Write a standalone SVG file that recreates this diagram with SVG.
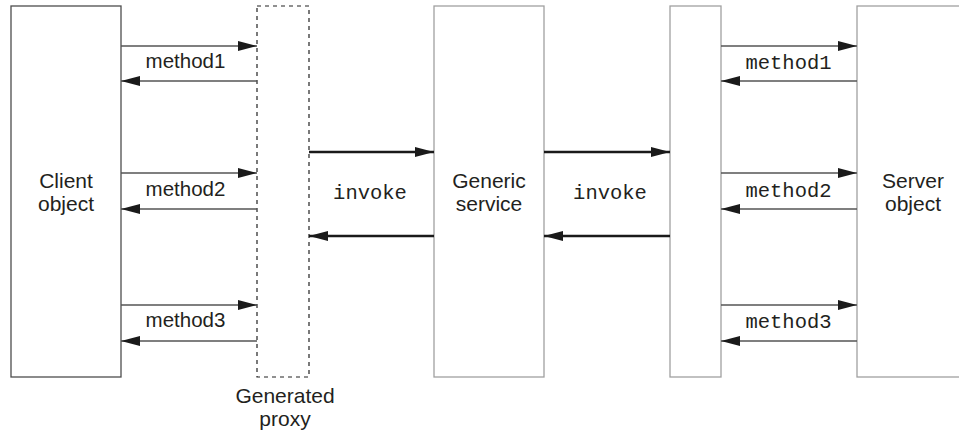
<svg xmlns="http://www.w3.org/2000/svg" width="959" height="434" viewBox="0 0 959 434">
  <style>
    .sans { font-family: "Liberation Sans", Arial, sans-serif; fill: #231f20; }
    .mono { font-family: "Liberation Mono", "Courier New", monospace; fill: #231f20; }
    .node { font-size: 21px; text-anchor: middle; }
    .lbl { font-size: 20.5px; text-anchor: middle; }
    .mlbl { font-size: 20.5px; text-anchor: middle; }
    .box-dark { fill: #fff; stroke: #4d4d4d; stroke-width: 1.3; }
    .box-light { fill: #fff; stroke: #a0a0a0; stroke-width: 1.3; }
    .box-dash { fill: #fff; stroke: #222; stroke-width: 1.2; stroke-dasharray: 4 4; }
    .call { stroke: #555; stroke-width: 1.6; fill: none; }
    .inv { stroke: #1a1a1a; stroke-width: 2.6; fill: none; }
  </style>
  <defs>
    <marker id="ah" viewBox="0 0 19 10" refX="19" refY="5" markerWidth="19" markerHeight="10" markerUnits="userSpaceOnUse" orient="auto">
      <path d="M0,0 L19,5 L0,10 Z" fill="#1a1a1a"/>
    </marker>
  </defs>

  <rect width="959" height="434" fill="#fff"/>

  <g id="client">
    <rect class="box-dark" x="11" y="6" width="110" height="371"/>
    <text class="sans node" x="66" y="188">Client</text>
    <text class="sans node" x="66" y="211">object</text>
  </g>

  <g id="proxy">
    <rect class="box-dash" x="257" y="6" width="52" height="371"/>
    <text class="sans node" x="285" y="403">Generated</text>
    <text class="sans node" x="285" y="426">proxy</text>
  </g>

  <g id="generic-service">
    <rect class="box-light" x="434" y="6" width="110" height="371"/>
    <text class="sans node" x="489" y="188">Generic</text>
    <text class="sans node" x="489" y="211">service</text>
  </g>

  <g id="dispatcher">
    <rect class="box-light" x="670" y="6" width="51" height="371"/>
  </g>

  <g id="server">
    <rect class="box-light" x="857" y="6" width="115" height="371"/>
    <text class="sans node" x="913" y="188">Server</text>
    <text class="sans node" x="913" y="211">object</text>
  </g>

  <g id="connectors">
    <!-- client <-> proxy -->
    <line class="call" x1="121" y1="46" x2="257" y2="46" marker-end="url(#ah)"/>
    <line class="call" x1="257" y1="81" x2="121" y2="81" marker-end="url(#ah)"/>
    <line class="call" x1="121" y1="173" x2="257" y2="173" marker-end="url(#ah)"/>
    <line class="call" x1="257" y1="209" x2="121" y2="209" marker-end="url(#ah)"/>
    <line class="call" x1="121" y1="305" x2="257" y2="305" marker-end="url(#ah)"/>
    <line class="call" x1="257" y1="341" x2="121" y2="341" marker-end="url(#ah)"/>
    <text class="sans lbl" x="185.5" y="68">method1</text>
    <text class="sans lbl" x="185.5" y="196">method2</text>
    <text class="sans lbl" x="185.5" y="327">method3</text>

    <!-- proxy <-> generic service -->
    <line class="inv" x1="309" y1="152" x2="434" y2="152" marker-end="url(#ah)"/>
    <line class="inv" x1="434" y1="236" x2="309" y2="236" marker-end="url(#ah)"/>
    <text class="mono mlbl" x="370" y="199">invoke</text>

    <!-- generic service <-> dispatcher -->
    <line class="inv" x1="544" y1="152" x2="670" y2="152" marker-end="url(#ah)"/>
    <line class="inv" x1="670" y1="236" x2="544" y2="236" marker-end="url(#ah)"/>
    <text class="mono mlbl" x="610" y="199">invoke</text>

    <!-- dispatcher <-> server -->
    <line class="call" x1="721" y1="46" x2="857" y2="46" marker-end="url(#ah)"/>
    <line class="call" x1="857" y1="81" x2="721" y2="81" marker-end="url(#ah)"/>
    <line class="call" x1="721" y1="173" x2="857" y2="173" marker-end="url(#ah)"/>
    <line class="call" x1="857" y1="209" x2="721" y2="209" marker-end="url(#ah)"/>
    <line class="call" x1="721" y1="305" x2="857" y2="305" marker-end="url(#ah)"/>
    <line class="call" x1="857" y1="341" x2="721" y2="341" marker-end="url(#ah)"/>
    <text class="mono mlbl" x="788.5" y="69">method1</text>
    <text class="mono mlbl" x="788.5" y="197">method2</text>
    <text class="mono mlbl" x="788.5" y="328">method3</text>
  </g>
</svg>
